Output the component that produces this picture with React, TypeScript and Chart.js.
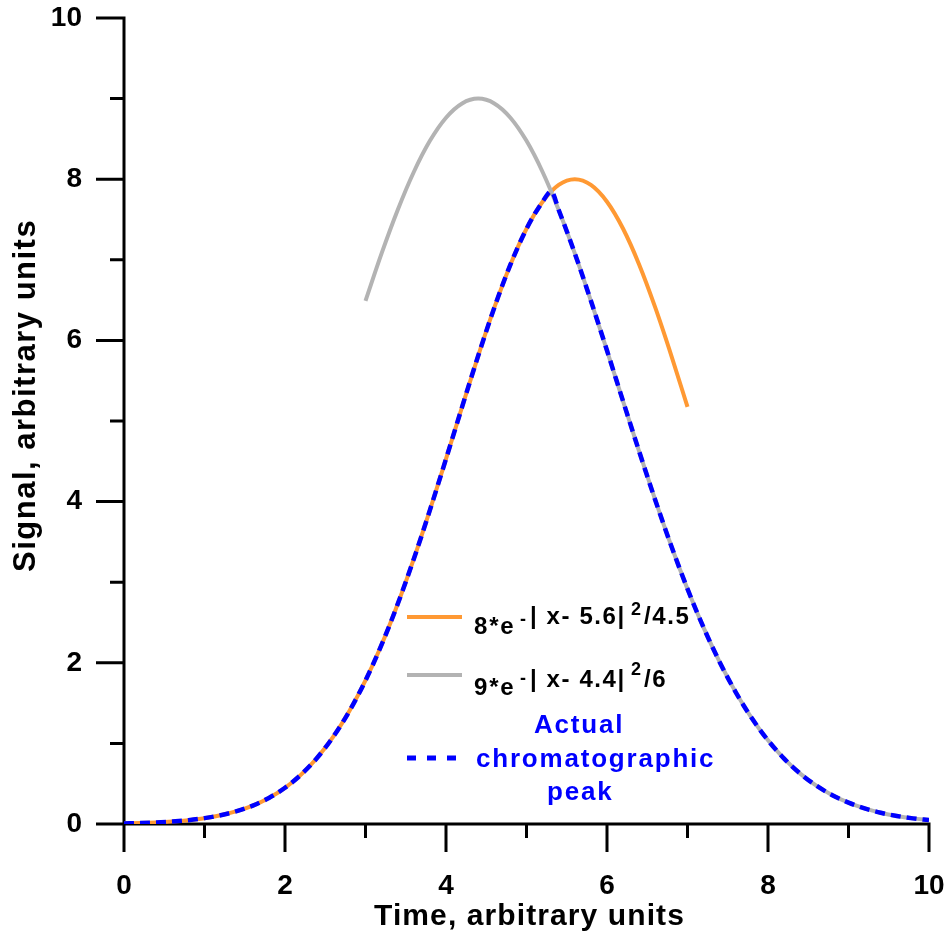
import React, { useEffect, useRef } from "react";
import { Chart, registerables } from "chart.js";

Chart.register(...registerables);

// ---- Data ----
const orangeX = [0, 0.2, 0.4, 0.6, 0.8, 1, 1.2, 1.4, 1.6, 1.8, 2, 2.2, 2.4, 2.6, 2.8, 3, 3.2, 3.4, 3.6, 3.8, 4, 4.2, 4.4, 4.6, 4.8, 5, 5.2, 5.4, 5.6, 5.8, 6, 6.2, 6.4, 6.6, 6.8, 7];
const orangeY = [0.0075, 0.0123, 0.0197, 0.0309, 0.0478, 0.0726, 0.1083, 0.1587, 0.2285, 0.3232, 0.4491, 0.613, 0.8219, 1.0827, 1.401, 1.781, 2.2243, 2.7287, 3.2889, 3.894, 4.5291, 5.1753, 5.8092, 6.4059, 6.9394, 7.385, 7.7206, 7.9292, 8.0, 7.9292, 7.7206, 7.385, 6.9394, 6.4059, 5.8092, 5.1753];

const greyX = [3, 3.2, 3.4, 3.6, 3.8, 4, 4.2, 4.4, 4.6, 4.8, 5, 5.2, 5.4, 5.6, 5.8, 6, 6.2, 6.4, 6.6, 6.8, 7, 7.2, 7.4, 7.6, 7.8, 8, 8.2, 8.4, 8.6, 8.8, 9, 9.2, 9.4, 9.6, 9.8, 10];
const greyY = [6.4914, 7.0797, 7.6183, 8.0895, 8.4759, 8.7632, 8.9402, 9.0, 8.9402, 8.7632, 8.4759, 8.0895, 7.6183, 7.0797, 6.4914, 5.8742, 5.2447, 4.6208, 4.0171, 3.446, 2.917, 2.4366, 2.0082, 1.6331, 1.3107, 1.038, 0.811, 0.6253, 0.4758, 0.3572, 0.2647, 0.1934, 0.1395, 0.0993, 0.0698, 0.0483];

const blueX = [0, 0.2, 0.4, 0.6, 0.8, 1, 1.2, 1.4, 1.6, 1.8, 2, 2.2, 2.4, 2.6, 2.8, 3, 3.2, 3.4, 3.6, 3.8, 4, 4.2, 4.4, 4.6, 4.8, 5, 5.2, 5.3065, 5.4, 5.6, 5.8, 6, 6.2, 6.4, 6.6, 6.8, 7, 7.2, 7.4, 7.6, 7.8, 8, 8.2, 8.4, 8.6, 8.8, 9, 9.2, 9.4, 9.6, 9.8, 10];
const blueY = [0.0075, 0.0123, 0.0197, 0.0309, 0.0478, 0.0726, 0.1083, 0.1587, 0.2285, 0.3232, 0.4491, 0.613, 0.8219, 1.0827, 1.401, 1.781, 2.2243, 2.7287, 3.2889, 3.894, 4.5291, 5.1753, 5.8092, 6.4059, 6.9394, 7.385, 7.7206, 7.848, 7.6183, 7.0797, 6.4914, 5.8742, 5.2447, 4.6208, 4.0171, 3.446, 2.917, 2.4366, 2.0082, 1.6331, 1.3107, 1.038, 0.811, 0.6253, 0.4758, 0.3572, 0.2647, 0.1934, 0.1395, 0.0993, 0.0698, 0.0483];

const xMajorTicks = [0, 2, 4, 6, 8, 10];
const xMinorTicks = [1, 3, 5, 7, 9];
const yMajorTicks = [0, 2, 4, 6, 8, 10];
const yMinorTicks = [1, 3, 5, 7, 9];

const xTitle = "Time, arbitrary units";
const yTitle = "Signal, arbitrary units";
const blueLabel = ["Actual", "chromatographic", "peak"];

const ORANGE = "#FF9933";
const GREY = "#B3B3B3";
const BLUE = "#0000FF";
const FONT = '"Liberation Sans", Arial, sans-serif';

function pts(xs: number[], ys: number[]) {
  return xs.map((x, i) => ({ x, y: ys[i] }));
}

function txt(ctx: CanvasRenderingContext2D, s: string, x: number, y: number, size: number, color: string, spacing: number) {
  ctx.save();
  ctx.font = `bold ${size}px ${FONT}`;
  (ctx as any).letterSpacing = `${spacing}px`;
  ctx.fillStyle = color;
  ctx.textAlign = "left";
  ctx.textBaseline = "alphabetic";
  ctx.fillText(s, x, y);
  ctx.restore();
}

const customPlugin = {
  id: "customDraw",
  beforeDatasetsDraw(chart: any) {
    const { ctx, chartArea, scales } = chart;
    const { left, right, top, bottom } = chartArea;
    const xs = scales.x;
    const ys = scales.y;
    ctx.save();
    ctx.strokeStyle = "#000";
    ctx.lineWidth = 3;
    ctx.lineCap = "butt";
    ctx.beginPath();
    ctx.moveTo(left, top - 1.5);
    ctx.lineTo(left, bottom + 1.5);
    ctx.moveTo(left - 1.5, bottom);
    ctx.lineTo(right + 1.5, bottom);
    for (const v of xMajorTicks) {
      const p = xs.getPixelForValue(v);
      ctx.moveTo(p, bottom);
      ctx.lineTo(p, bottom + 28);
    }
    for (const v of xMinorTicks) {
      const p = xs.getPixelForValue(v);
      ctx.moveTo(p, bottom);
      ctx.lineTo(p, bottom + 14);
    }
    for (const v of yMajorTicks) {
      const p = ys.getPixelForValue(v);
      ctx.moveTo(left, p);
      ctx.lineTo(left - 28, p);
    }
    for (const v of yMinorTicks) {
      const p = ys.getPixelForValue(v);
      ctx.moveTo(left, p);
      ctx.lineTo(left - 14, p);
    }
    ctx.stroke();
    ctx.restore();
  },
  afterDraw(chart: any) {
    const { ctx } = chart;
    ctx.save();
    ctx.lineCap = "butt";
    ctx.lineWidth = 4;
    ctx.strokeStyle = ORANGE;
    ctx.beginPath();
    ctx.moveTo(407, 617);
    ctx.lineTo(462, 617);
    ctx.stroke();
    ctx.strokeStyle = GREY;
    ctx.beginPath();
    ctx.moveTo(407, 675);
    ctx.lineTo(462, 675);
    ctx.stroke();
    ctx.strokeStyle = BLUE;
    ctx.lineWidth = 5;
    ctx.setLineDash([9, 11]);
    ctx.beginPath();
    ctx.moveTo(407, 758);
    ctx.lineTo(458, 758);
    ctx.stroke();
    ctx.setLineDash([]);
    ctx.restore();

    // legend text row 1
    txt(ctx, "8*e", 474, 634, 24, "#000", 1.8);
    txt(ctx, "-", 520, 625, 18, "#000", 0);
    txt(ctx, "| x- 5.6|", 530, 624, 24, "#000", 1.6);
    txt(ctx, "2", 631, 615, 18, "#000", 0);
    txt(ctx, "/4.5", 644, 624, 24, "#000", 1.6);
    // row 2
    txt(ctx, "9*e", 474, 695, 24, "#000", 1.8);
    txt(ctx, "-", 520, 684, 18, "#000", 0);
    txt(ctx, "| x- 4.4|", 530, 687, 24, "#000", 1.6);
    txt(ctx, "2", 631, 675, 18, "#000", 0);
    txt(ctx, "/6", 644, 687, 24, "#000", 1.6);
    // blue label
    txt(ctx, blueLabel[0], 534, 733, 26, BLUE, 1.8);
    txt(ctx, blueLabel[1], 476, 767, 26, BLUE, 1.8);
    txt(ctx, blueLabel[2], 547, 800, 26, BLUE, 1.8);

    // axis titles
    txt(ctx, xTitle, 374, 925, 30, "#000", 1.1);
    ctx.save();
    ctx.translate(35, 572);
    ctx.rotate(-Math.PI / 2);
    txt(ctx, yTitle, 0, 0, 31, "#000", 1.5);
    ctx.restore();
  },
};

function zeroPad(s: any) {
  s.paddingLeft = 0;
  s.paddingRight = 0;
  s.paddingTop = 0;
  s.paddingBottom = 0;
}

export default function App() {
  const ref = useRef<HTMLCanvasElement | null>(null);
  useEffect(() => {
    if (!ref.current) return;
    const chart = new Chart(ref.current, {
      type: "line",
      data: {
        datasets: [
          {
            label: "Actual chromatographic peak",
            data: pts(blueX, blueY),
            borderColor: BLUE,
            borderWidth: 4.5,
            borderDash: [10, 6],
            pointRadius: 0,
            cubicInterpolationMode: "monotone",
            order: 0,
          },
          {
            label: "9*e^-|x-4.4|^2/6",
            data: pts(greyX, greyY),
            borderColor: GREY,
            borderWidth: 4,
            pointRadius: 0,
            cubicInterpolationMode: "monotone",
            order: 1,
          },
          {
            label: "8*e^-|x-5.6|^2/4.5",
            data: pts(orangeX, orangeY),
            borderColor: ORANGE,
            borderWidth: 4,
            pointRadius: 0,
            cubicInterpolationMode: "monotone",
            order: 2,
          },
        ],
      },
      options: {
        animation: false,
        responsive: false,
        devicePixelRatio: 1,
        layout: { padding: { top: 18, right: 19, left: 0, bottom: 0 } },
        plugins: { legend: { display: false }, tooltip: { enabled: false } },
        scales: {
          x: {
            type: "linear",
            min: 0,
            max: 10,
            grid: { display: false, drawTicks: false },
            border: { display: false },
            afterFit: (s: any) => {
              s.height = 112;
              zeroPad(s);
            },
            ticks: {
              stepSize: 2,
              padding: 45,
              color: "#000",
              font: { size: 28, weight: "bold", family: FONT },
              maxRotation: 0,
            },
          },
          y: {
            type: "linear",
            min: 0,
            max: 10,
            grid: { display: false, drawTicks: false },
            border: { display: false },
            afterFit: (s: any) => {
              s.width = 124;
              zeroPad(s);
            },
            ticks: {
              stepSize: 2,
              padding: 42,
              color: "#000",
              font: { size: 28, weight: "bold", family: FONT },
            },
          },
        },
      },
      plugins: [customPlugin],
    } as any);
    return () => chart.destroy();
  }, []);
  return (
    <div style={{ position: "fixed", left: 0, top: 0, width: 948, height: 936, background: "#fff" }}>
      <canvas ref={ref} width={948} height={936} style={{ display: "block" }} />
    </div>
  );
}
